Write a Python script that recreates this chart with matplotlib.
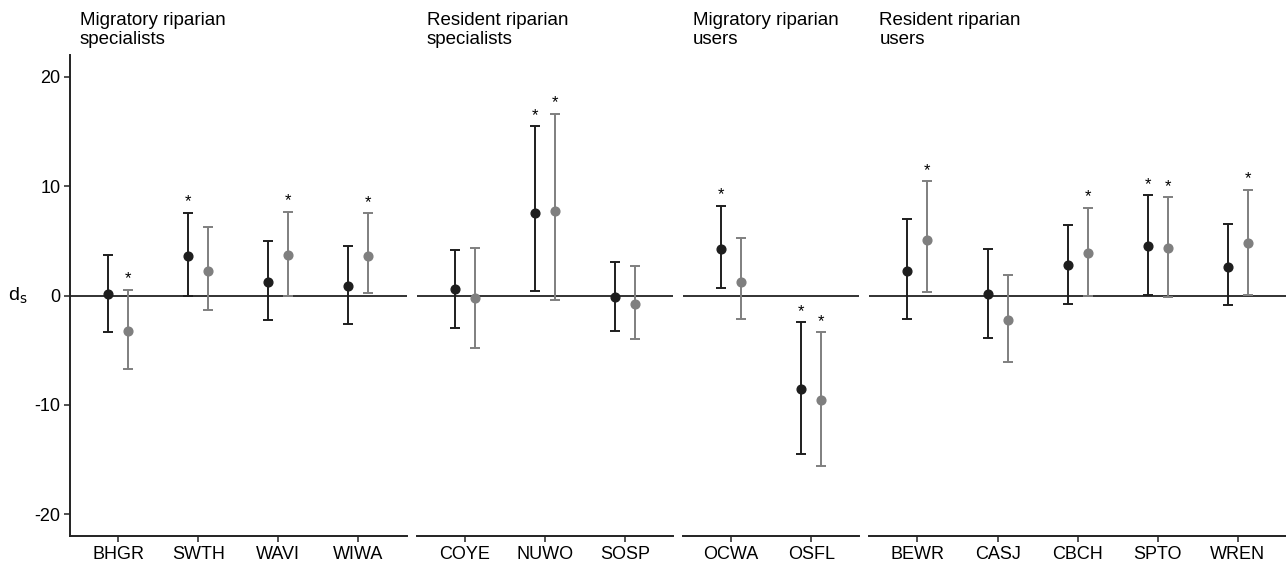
import numpy as np
import matplotlib.pyplot as plt
import matplotlib.transforms as mtransforms

plt.rcParams['font.family'] = ['Liberation Sans', 'DejaVu Sans']

group_titles = ["Migratory riparian\nspecialists", "Resident riparian\nspecialists",
                "Migratory riparian\nusers", "Resident riparian\nusers"]
group_species = [["BHGR", "SWTH", "WAVI", "WIWA"],
                 ["COYE", "NUWO", "SOSP"],
                 ["OCWA", "OSFL"],
                 ["BEWR", "CASJ", "CBCH", "SPTO", "WREN"]]

# black series (estimate, lower, upper, significant)
black_est = [0.15, 3.62, 1.19, 0.91, 0.61, 7.52, -0.15, 4.26, -8.52, 2.28, 0.15, 2.77, 4.50, 2.62]
black_lo = [-3.35, -0.09, -2.28, -2.62, -2.95, 0.43, -3.26, 0.67, -14.46, -2.19, -3.87, -0.82, 0.06, -0.88]
black_hi = [3.74, 7.58, 5.02, 4.57, 4.17, 15.5, 3.04, 8.19, -2.43, 7.00, 4.23, 6.48, 9.16, 6.55]
black_sig = [0, 1, 0, 0, 0, 1, 0, 1, 1, 0, 0, 0, 1, 0]

# grey series
grey_est = [-3.26, 2.28, 3.68, 3.62, -0.21, 7.76, -0.82, 1.25, -9.56, 5.11, -2.22, 3.93, 4.38, 4.84]
grey_lo = [-6.70, -1.37, -0.03, 0.21, -4.78, -0.37, -3.96, -2.16, -15.56, 0.33, -6.06, -0.09, -0.18, 0.03]
grey_hi = [0.52, 6.27, 7.67, 7.52, 4.38, 16.6, 2.68, 5.24, -3.38, 10.44, 1.89, 8.04, 8.98, 9.68]
grey_sig = [1, 0, 1, 1, 0, 1, 0, 0, 1, 1, 0, 1, 1, 1]

black_col = "#1e1e1e"
grey_col = "#7f7f7f"
dodge = 0.125

fig = plt.figure(figsize=(12.86, 5.64), dpi=100)
widths = [len(s) + 0.2 for s in group_species]
gs = fig.add_gridspec(1, 4, width_ratios=widths, left=70 / 1286, right=1.0,
                      bottom=1 - 536 / 564, top=1 - 55 / 564, wspace=0.034)

k = 0
for g, species in enumerate(group_species):
    ax = fig.add_subplot(gs[0, g])
    n = len(species)
    x = np.arange(1, n + 1)
    sl = slice(k, k + n)
    k += n

    ax.axhline(0, color="#222222", lw=1.3, zorder=1)

    for est, lo, hi, sig, col, off in [
        (black_est, black_lo, black_hi, black_sig, black_col, -dodge),
        (grey_est, grey_lo, grey_hi, grey_sig, grey_col, dodge),
    ]:
        e = np.array(est[sl])
        l = np.array(lo[sl])
        h = np.array(hi[sl])
        s = np.array(sig[sl])
        xx = x + off
        ax.errorbar(xx, e, yerr=[e - l, h - e], fmt="o", color=col, ecolor=col,
                    ms=6.3, elinewidth=1.4, capsize=3.3, capthick=1.4, zorder=3)
        for xi, hi_i, si in zip(xx, h, s):
            if si:
                ax.text(xi, hi_i + 1.0, "*", ha="center", va="center", fontsize=12,
                        color="black")

    ax.set_xlim(0.4, n + 0.6)
    ax.set_ylim(-22, 22)
    ax.set_xticks(x)
    ax.set_xticklabels(species, fontsize=13)
    ax.tick_params(axis="x", length=4, width=1.2, color="#333333", pad=3)
    for sp in ["top", "right"]:
        ax.spines[sp].set_visible(False)
    ax.spines["bottom"].set_linewidth(1.4)
    ax.spines["bottom"].set_color("#222222")
    if g == 0:
        ax.spines["left"].set_linewidth(1.4)
        ax.spines["left"].set_color("#222222")
        ax.set_yticks([-20, -10, 0, 10, 20])
        ax.set_yticklabels(["-20", "-10", "0", "10", "20"], fontsize=13)
        ax.tick_params(axis="y", length=4, width=1.2, color="#333333", pad=3)
        ax.set_ylabel(r"d$_\mathrm{s}$", rotation=0, fontsize=14, labelpad=12, va="center")
    else:
        ax.spines["left"].set_visible(False)
        ax.set_yticks([])

    trans = mtransforms.offset_copy(ax.transAxes, fig=fig, x=10, y=0, units="dots")
    ax.text(0, 1.0 + 43 / 481, group_titles[g], transform=trans, ha="left", va="top",
            fontsize=13.5, linespacing=1.13)

fig.savefig("out.png", dpi=100)
